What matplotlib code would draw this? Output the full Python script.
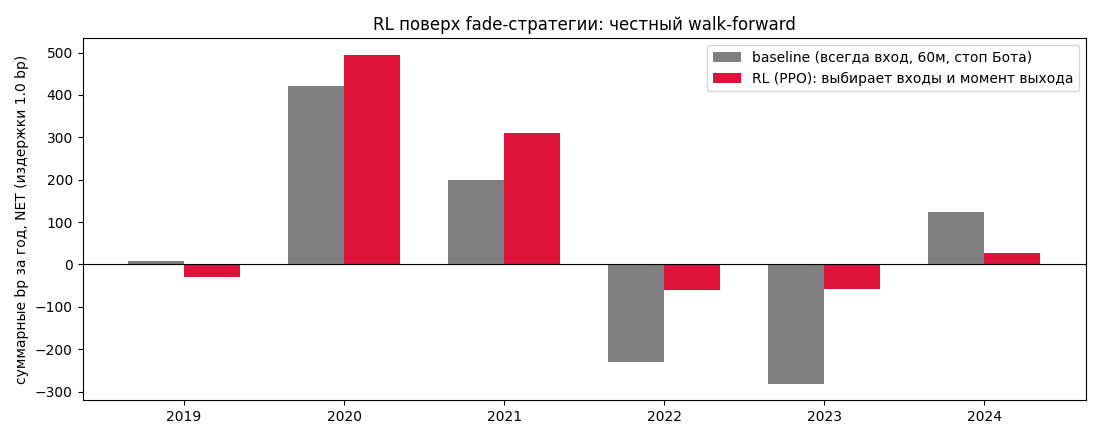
import numpy as np
from matplotlib import pyplot as plt

years = ['2019', '2020', '2021', '2022', '2023', '2024']
baseline = [9, 422, 200, -231, -282, 123]
rl = [-30, 495, 311, -61, -58, 26]

x = np.arange(len(years))
w = 0.35

fig, ax = plt.subplots(figsize=(11, 4.4), dpi=100)
ax.bar(x - w / 2, baseline, w, color='grey', label='baseline (всегда вход, 60м, стоп Бота)')
ax.bar(x + w / 2, rl, w, color='crimson', label='RL (PPO): выбирает входы и момент выхода')
ax.axhline(0, color='black', linewidth=0.8)
ax.set_xticks(x)
ax.set_xticklabels(years)
ax.set_ylabel('суммарные bp за год, NET (издержки 1.0 bp)')
ax.set_title('RL поверх fade-стратегии: честный walk-forward')
ax.legend(loc='upper right')
plt.subplots_adjust(left=0.075, right=0.987, top=0.913, bottom=0.09)
plt.savefig('out.png')
